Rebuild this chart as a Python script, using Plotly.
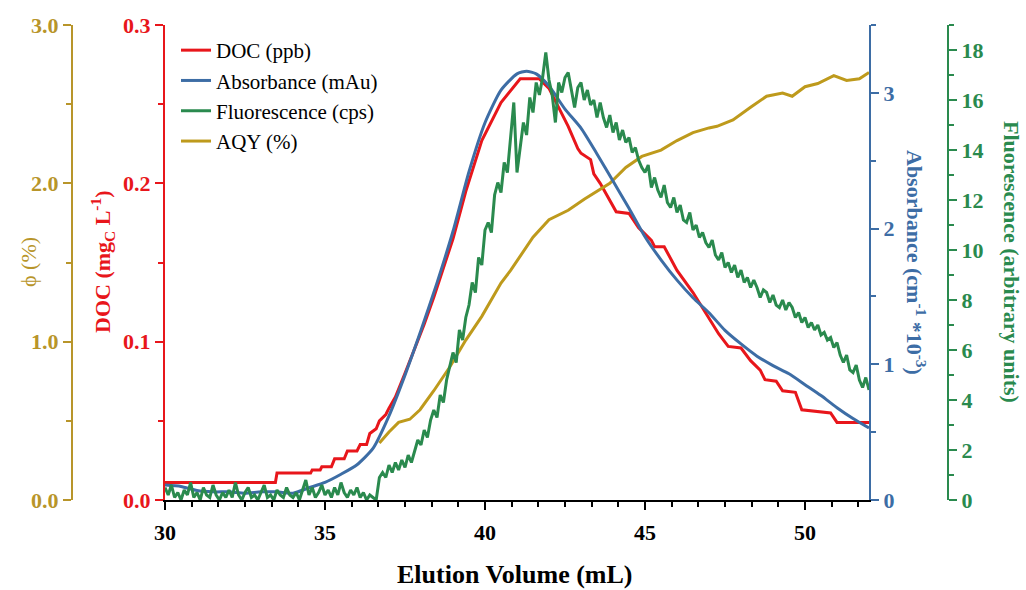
import plotly.graph_objects as go

# ---------------- data ----------------
# DOC (mg C / L), staircase-like trace
doc_x = [30.0, 33.45, 33.5, 34.55, 34.6, 34.85, 34.9, 35.2, 35.3, 35.6, 35.7, 36.0, 36.1, 36.3,
         36.4, 36.6, 36.7, 36.9, 37.0, 37.2, 37.5, 37.8, 38.1, 38.4, 38.7, 39.0, 39.4, 39.9,
         40.5, 40.9, 41.1, 41.7, 42.0, 42.3, 42.6, 42.9, 43.0, 43.3, 43.4, 43.6, 43.9, 44.1,
         44.5, 44.8, 45.2, 45.3, 45.6, 46.0, 46.5, 46.9, 47.3, 47.6, 48.0, 48.3, 48.6, 48.75,
         49.1, 49.3, 49.7, 49.9, 50.8, 51.0, 52.0]
doc_y = [0.011, 0.011, 0.017, 0.017, 0.019, 0.019, 0.021, 0.021, 0.026, 0.026, 0.031, 0.031, 0.035, 0.035,
         0.042, 0.045, 0.050, 0.054, 0.058, 0.065, 0.080, 0.095, 0.111, 0.128, 0.146, 0.165, 0.195, 0.227,
         0.251, 0.261, 0.266, 0.266, 0.260, 0.248, 0.236, 0.222, 0.219, 0.215, 0.206, 0.200, 0.189, 0.182,
         0.181, 0.172, 0.164, 0.160, 0.160, 0.145, 0.131, 0.118, 0.105, 0.097, 0.096, 0.088, 0.082, 0.076,
         0.075, 0.069, 0.068, 0.057, 0.055, 0.049, 0.049]

# Absorbance (cm-1 * 10^-3)
abs_x = [30.0, 30.5, 31.0, 31.5, 32.0, 32.5, 33.0, 33.5, 34.0, 34.5, 35.0, 35.5, 36.0, 36.5,
         37.0, 37.5, 38.0, 38.5, 39.0, 39.5, 40.0, 40.5, 41.0, 41.3, 41.6, 42.0, 42.5, 43.0,
         43.5, 44.0, 44.5, 45.0, 45.5, 46.0, 46.5, 47.0, 47.5, 48.0, 48.5, 49.0, 49.5, 50.0,
         50.5, 51.0, 51.5, 52.0]
abs_y = [0.11, 0.10, 0.07, 0.06, 0.06, 0.05, 0.06, 0.06, 0.05, 0.09, 0.13, 0.19, 0.26, 0.38,
         0.62, 0.92, 1.25, 1.60, 1.98, 2.42, 2.78, 3.02, 3.14, 3.16, 3.14, 3.05, 2.88, 2.74,
         2.55, 2.35, 2.15, 1.94, 1.77, 1.62, 1.49, 1.38, 1.25, 1.15, 1.06, 0.99, 0.93, 0.85,
         0.77, 0.68, 0.60, 0.53]

# Fluorescence (arbitrary units), sampled every 0.1 mL from 30.0 to 52.0
fl_start = 30.0
fl_step = 0.1
fl_y = [
    0.5, 0.2, 0.6, 0.1, 0.3, 0.0, 0.4, 0.2, 0.7, 0.1,
    0.3, 0.0, 0.5, 0.2, 0.1, 0.6, 0.2, 0.0, 0.3, 0.1,
    0.4, 0.1, 0.7, 0.2, 0.0, 0.3, 0.5, 0.1, 0.2, 0.0,
    0.3, 0.6, 0.1, 0.2, 0.0, 0.4, 0.2, 0.1, 0.5, 0.2,
    0.1, 0.3, 0.0, 0.4, 0.8, 0.2, 0.5, 0.1, 0.3, 0.6,
    0.2, 0.4, 0.1, 0.5, 0.2, 0.7, 0.3, 0.1, 0.4, 0.2,
    0.5, 0.1, 0.3, 0.0, 0.2, 0.1, 0.0, 0.9, 1.1, 0.9,
    1.4, 1.1, 1.5, 1.2, 1.6, 1.3, 1.8, 1.5, 2.0, 2.4,
    2.2, 2.8, 2.5, 3.2, 3.6, 3.3, 4.2, 3.9, 4.8, 5.3,
    5.9, 5.5, 6.8, 6.4, 7.3, 7.8, 8.7, 8.3, 9.7, 9.4,
    10.8, 11.1, 10.7, 12.2, 12.7, 12.3, 13.5, 13.1, 14.4, 15.9,
    13.1, 14.2, 15.1, 14.6, 16.1, 15.5, 16.7, 16.2, 16.9, 17.9,
    16.8, 16.2, 15.1, 16.7, 16.3, 16.9, 17.1, 16.4, 15.7, 16.5,
    16.7, 16.0, 16.4, 15.8, 16.0, 15.3, 15.9, 15.3, 14.9, 15.4,
    14.7, 15.1, 14.4, 14.8, 14.3, 14.5, 13.9, 14.1, 13.6, 13.3,
    13.1, 13.4, 12.5, 12.9, 12.4, 12.1, 12.6, 11.9, 11.7, 12.1,
    11.5, 11.8, 11.2, 11.1, 11.5, 10.8, 11.0, 10.5, 10.7, 10.3,
    10.1, 10.4, 9.8, 9.6, 9.9, 9.3, 9.5, 9.1, 9.4, 8.9,
    9.2, 8.7, 8.9, 8.5, 8.8, 8.5, 8.1, 8.4, 8.3, 7.9,
    8.2, 7.8, 7.7, 8.0, 7.6, 7.9, 7.7, 7.3, 7.5, 7.1,
    7.3, 6.9, 7.1, 6.8, 7.0, 6.6, 6.7, 6.4, 6.5, 6.1,
    6.3, 5.8, 5.5, 5.8, 5.2, 5.1, 5.4, 4.8, 4.5, 4.9,
    4.4]
fl_x = [round(fl_start + i * fl_step, 2) for i in range(len(fl_y))]

# AQY (%)
aqy_x = [36.7, 37.0, 37.3, 37.65, 37.97, 38.4, 38.9, 39.4, 39.9, 40.5, 40.8, 41.5, 42.0, 42.6,
         43.1, 43.6, 43.9, 44.4, 44.9, 45.5, 46.0, 46.5, 47.0, 47.25, 47.75, 48.3, 48.8, 49.3,
         49.6, 50.0, 50.4, 50.9, 51.3, 51.7, 52.0]
aqy_y = [0.36, 0.43, 0.49, 0.51, 0.57, 0.69, 0.84, 1.01, 1.16, 1.37, 1.45, 1.66, 1.77, 1.83,
         1.90, 1.96, 2.00, 2.10, 2.17, 2.21, 2.27, 2.32, 2.35, 2.36, 2.40, 2.48, 2.55, 2.57,
         2.55, 2.61, 2.63, 2.68, 2.65, 2.66, 2.70]

# ---------------- styling ----------------
RED = "#E8161B"
BLUE = "#3D6DA5"
GREEN = "#2A8A4E"
GOLD = "#BE9A1C"
GOLD_AX = "#B8952A"
FONT = "Liberation Serif"

W, H = 1026, 590
ML, MR, MT, MB = 40, 40, 25, 90
PW = W - ML - MR
PH = H - MT - MB


def px_x(p):
    return (p - ML) / PW


def px_y(p):
    return (H - MB - p) / PH


fig = go.Figure()
fig.add_trace(go.Scatter(x=doc_x, y=doc_y, name="DOC (ppb)", mode="lines",
                         line=dict(color=RED, width=3), yaxis="y"))
fig.add_trace(go.Scatter(x=abs_x, y=abs_y, name="Absorbance (mAu)", mode="lines",
                         line=dict(color=BLUE, width=3, shape="spline", smoothing=0.6), yaxis="y3"))
fig.add_trace(go.Scatter(x=fl_x, y=fl_y, name="Fluorescence (cps)", mode="lines",
                         line=dict(color=GREEN, width=3), yaxis="y4"))
fig.add_trace(go.Scatter(x=aqy_x, y=aqy_y, name="AQY (%)", mode="lines",
                         line=dict(color=GOLD, width=3), yaxis="y2"))


def tfont(c):
    return dict(family=FONT, size=22, color=c, weight="bold")


common = dict(showline=True, linewidth=2, ticks="outside", tickwidth=2, ticklen=8,
              showgrid=False, zeroline=False, fixedrange=True)

fig.update_layout(
    width=W, height=H,
    margin=dict(l=ML, r=MR, t=MT, b=MB),
    paper_bgcolor="white", plot_bgcolor="white",
    showlegend=True,
    legend=dict(x=px_x(176), y=px_y(30), xanchor="left", yanchor="top",
                font=dict(family=FONT, size=21, color="black"),
                bgcolor="rgba(0,0,0,0)", borderwidth=0, tracegroupgap=0),
    xaxis=dict(domain=[px_x(165), px_x(869)], range=[30, 52], tick0=30, dtick=5,
               linecolor="black", tickcolor="black", tickfont=tfont("black"),
               ticklabelstandoff=4,
               minor=dict(dtick=5 / 6, tick0=30, ticks="outside", ticklen=5, tickwidth=2,
                          tickcolor="black"),
               **common),
    yaxis=dict(range=[0, 0.3], dtick=0.1, tickformat=".1f", side="left", anchor="x",
               linecolor=RED, tickcolor=RED, tickfont=tfont(RED),
               minor=dict(dtick=0.05, ticks="outside", ticklen=5, tickwidth=2, tickcolor=RED),
               **common),
    yaxis2=dict(range=[0, 3], dtick=1, tickformat=".1f", side="left", anchor="free",
                overlaying="y", position=px_x(72),
                linecolor=GOLD_AX, tickcolor=GOLD_AX, tickfont=tfont(GOLD_AX),
                minor=dict(dtick=0.5, ticks="outside", ticklen=5, tickwidth=2, tickcolor=GOLD_AX),
                **common),
    yaxis3=dict(range=[0, 3.5], dtick=1, side="right", anchor="x", overlaying="y",
                linecolor=BLUE, tickcolor=BLUE, tickfont=tfont(BLUE),
                minor=dict(dtick=0.5, ticks="outside", ticklen=5, tickwidth=2, tickcolor=BLUE),
                **common),
    yaxis4=dict(range=[0, 19], dtick=2, side="right", anchor="free", overlaying="y",
                position=px_x(948),
                linecolor=GREEN, tickcolor=GREEN, tickfont=tfont(GREEN),
                minor=dict(dtick=1, ticks="outside", ticklen=5, tickwidth=2, tickcolor=GREEN),
                **common),
)

ann = [
    dict(text="<b>Elution Volume (mL)</b>", x=px_x(515), y=px_y(574),
         font=dict(family=FONT, size=26, color="black"), textangle=0),
    dict(text="ϕ (%)", x=px_x(28), y=px_y(262),
         font=dict(family=FONT, size=22, color=GOLD_AX), textangle=-90),
    dict(text="<b>DOC (mg<sub>C</sub> L<sup>-1</sup>)</b>", x=px_x(102), y=px_y(262),
         font=dict(family=FONT, size=22, color=RED), textangle=-90),
    dict(text="<b>Absorbance (cm<sup>-1</sup> *10<sup>-3</sup>)</b>", x=px_x(916), y=px_y(262),
         font=dict(family=FONT, size=22, color=BLUE), textangle=90),
    dict(text="<b>Fluorescence (arbitrary units)</b>", x=px_x(1012), y=px_y(262),
         font=dict(family=FONT, size=22, color=GREEN), textangle=90),
]
for a in ann:
    fig.add_annotation(xref="paper", yref="paper", showarrow=False,
                       xanchor="center", yanchor="middle", **a)

fig.write_html("out.html")
